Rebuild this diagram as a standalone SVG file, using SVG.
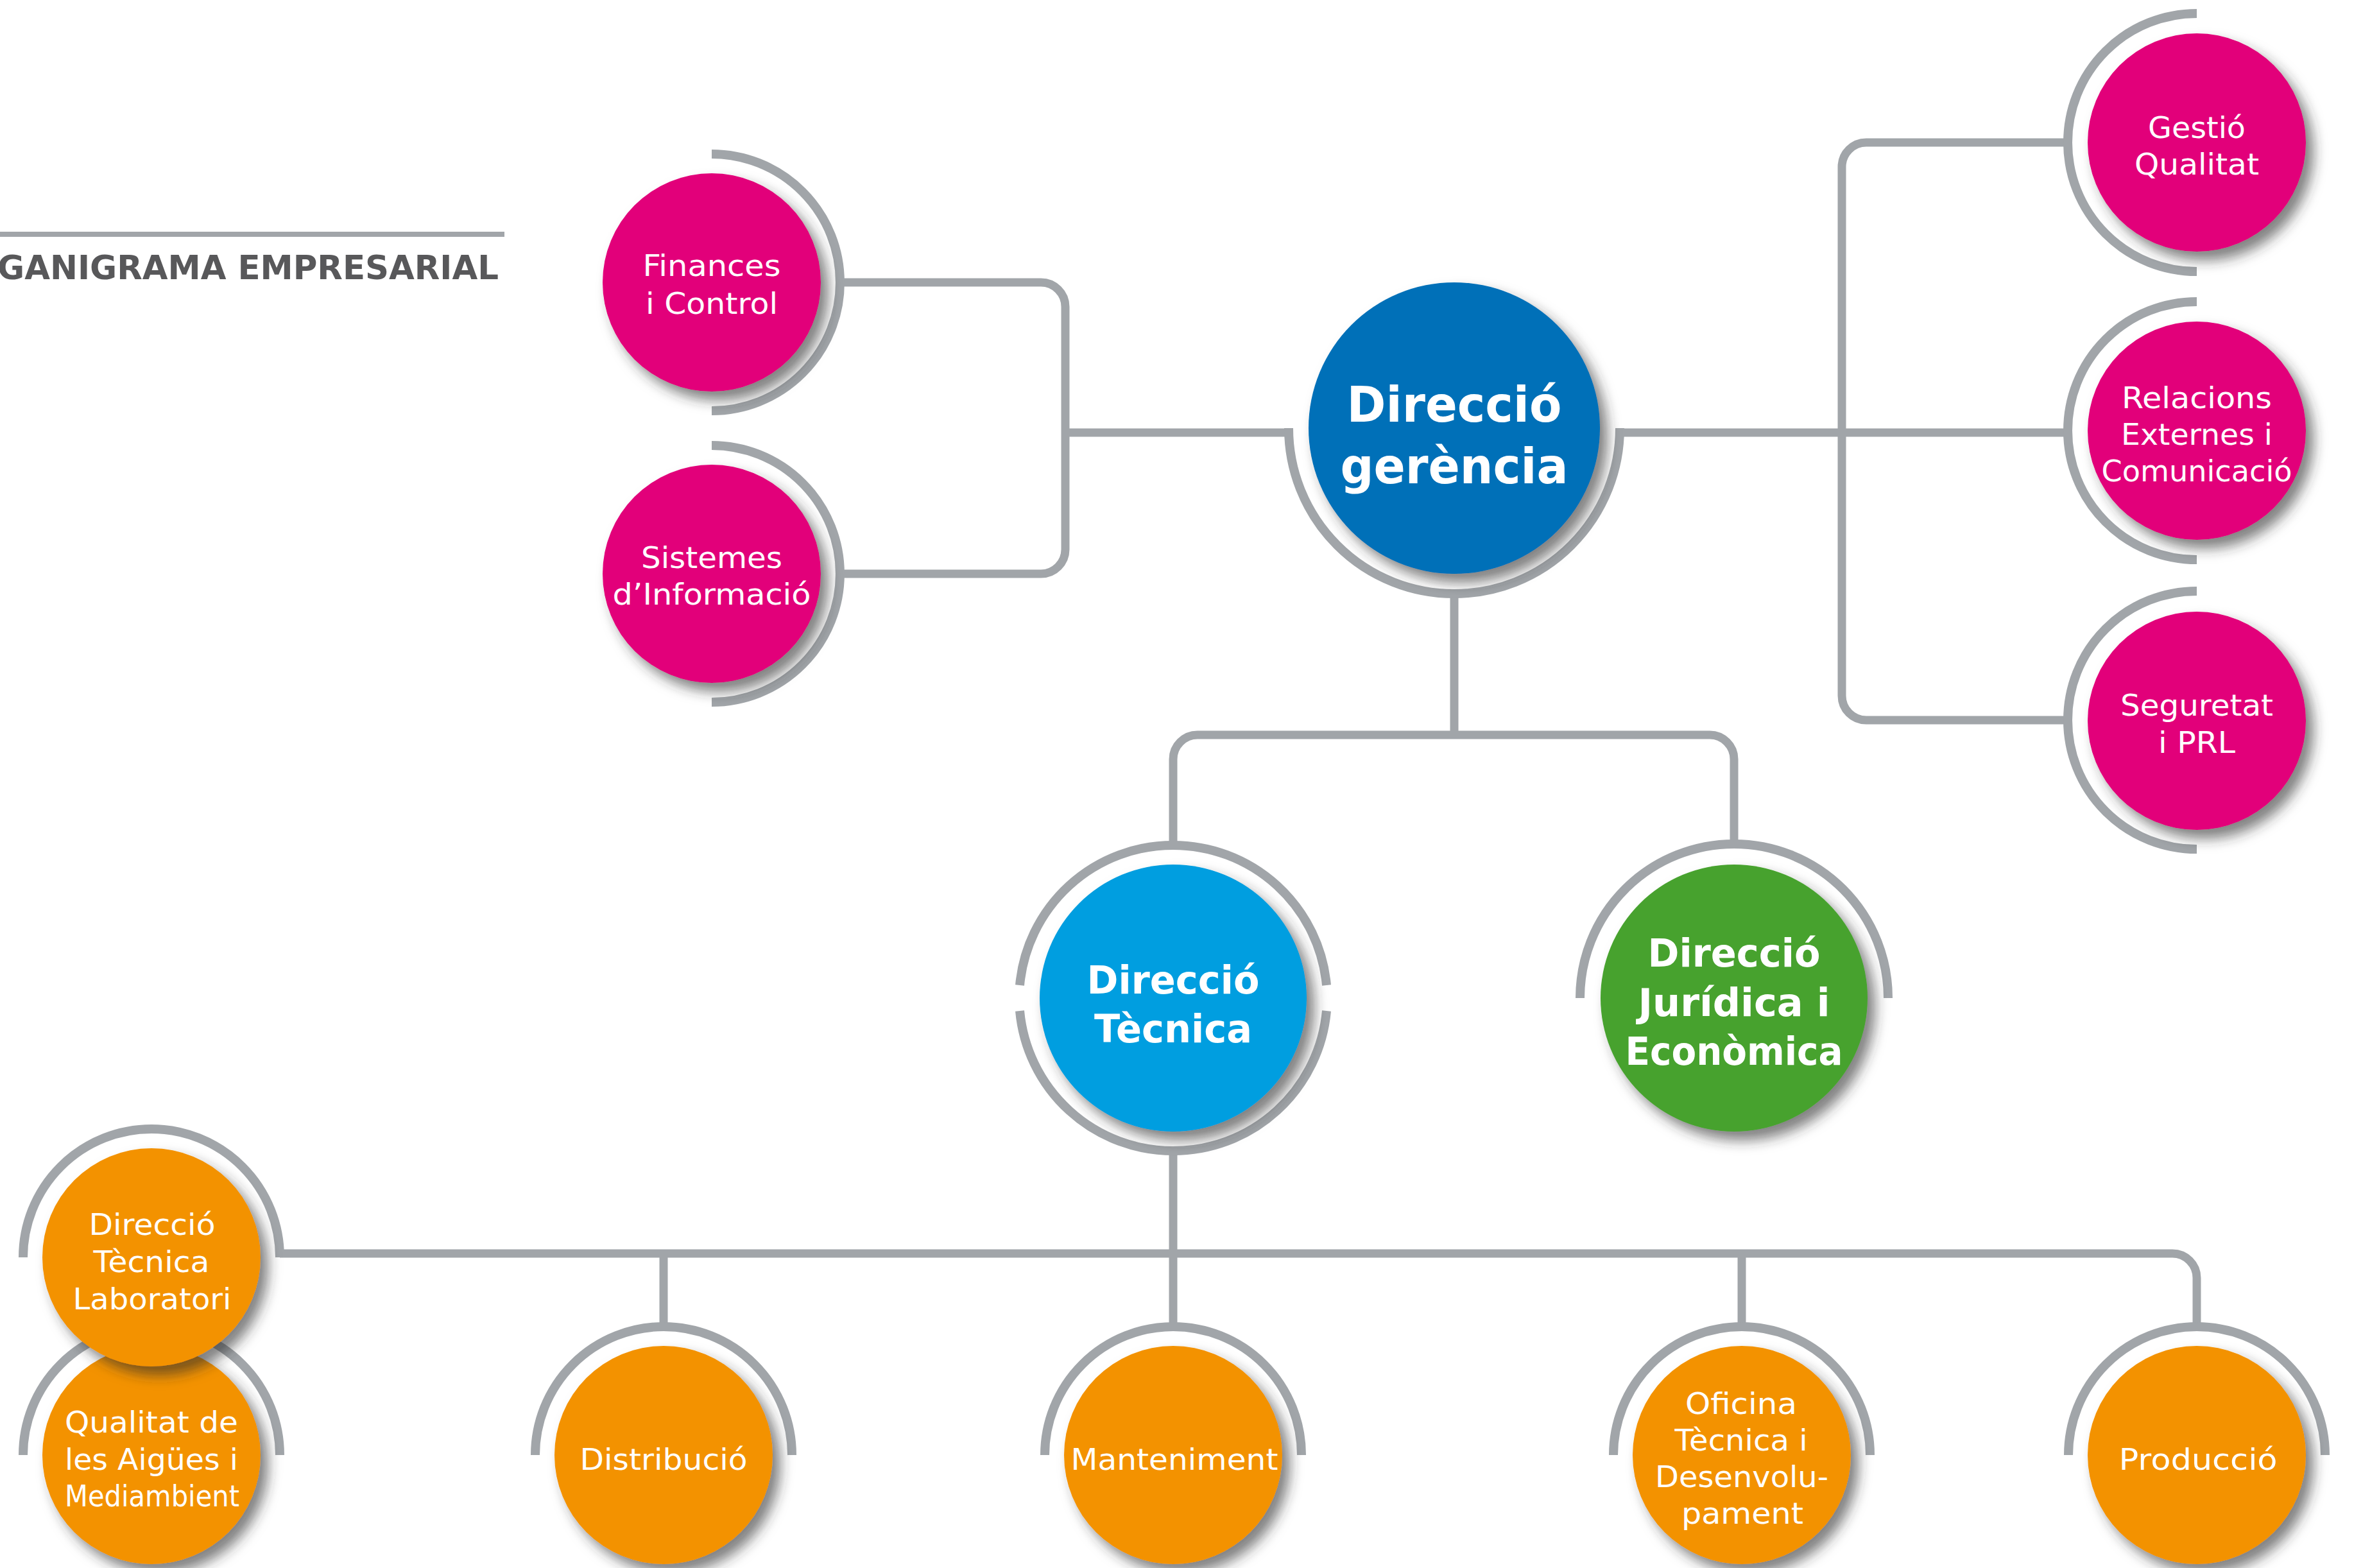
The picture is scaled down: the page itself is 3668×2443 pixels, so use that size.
<svg xmlns="http://www.w3.org/2000/svg" width="3668" height="2443" viewBox="0 0 3668 2443">
<defs>
<filter id="sh" x="-30%" y="-30%" width="170%" height="170%">
<feDropShadow dx="12" dy="14" stdDeviation="10" flood-color="#2a2a2a" flood-opacity="0.6"/>
</filter>
<style>
.ln{fill:none;stroke:#A1A5A9;stroke-width:13}
.rg{fill:none;stroke:#A1A5A9;stroke-width:14}
.pk{fill:#E2007A;filter:url(#sh)}
.or{fill:#F39200;filter:url(#sh)}
.t{fill:#fff;font-family:"DejaVu Sans","Liberation Sans",sans-serif;font-size:46px;text-anchor:middle}
.tb{fill:#fff;font-family:"DejaVu Sans","Liberation Sans",sans-serif;font-weight:700;text-anchor:middle}
</style>
</defs>
<rect width="3668" height="2443" fill="#fff"/>
<g id="title">
<line x1="0" y1="365" x2="786" y2="365" stroke="#A1A5A9" stroke-width="8"/>
<text x="-4" y="435" font-family="'DejaVu Sans','Liberation Sans',sans-serif" font-weight="700" font-size="51" fill="#58585A" textLength="781" lengthAdjust="spacingAndGlyphs">GANIGRAMA EMPRESARIAL</text>
</g>
<g id="connectors">
<path class="ln" d="M1309,440 H1622 A38,38 0 0 1 1660,478 V856 A38,38 0 0 1 1622,894 H1309"/>
<path class="ln" d="M1660,674 H2010"/>
<path class="ln" d="M2522,674 H3222"/>
<path class="ln" d="M3222,222 H2908 A38,38 0 0 0 2870,260 V1084 A38,38 0 0 0 2908,1122 H3222"/>
<path class="ln" d="M2266,925 V1145"/>
<path class="ln" d="M1828,1315 V1183 A38,38 0 0 1 1866,1145 H2664 A38,38 0 0 1 2702,1183 V1315"/>
<path class="ln" d="M1828,1795 V2067"/>
<path class="ln" d="M436,1953 H3385 A38,38 0 0 1 3423,1991 V2067"/>
<path class="ln" d="M1034,1953 V2067"/>
<path class="ln" d="M2714,1953 V2067"/>
</g>
<g id="finances">
<path class="rg" d="M1109,240 A200,200 0 0 1 1109,640"/>
<circle class="pk" cx="1109" cy="440" r="170"/>
<text class="t"><tspan x="1109" y="430" textLength="215" lengthAdjust="spacingAndGlyphs">Finances</tspan><tspan x="1109" y="489" textLength="206" lengthAdjust="spacingAndGlyphs">i Control</tspan></text>
</g>
<g id="sistemes">
<path class="rg" d="M1109,694 A200,200 0 0 1 1109,1094"/>
<circle class="pk" cx="1109" cy="894" r="170"/>
<text class="t"><tspan x="1109" y="885" textLength="220" lengthAdjust="spacingAndGlyphs">Sistemes</tspan><tspan x="1109" y="942" textLength="309" lengthAdjust="spacingAndGlyphs">d’Informació</tspan></text>
</g>
<g id="gerencia">
<path class="rg" d="M2008,667 A258,258 0 0 0 2524,667"/>
<circle cx="2266" cy="667" r="227" fill="#0070B8" filter="url(#sh)"/>
<text class="tb" font-size="77"><tspan x="2266" y="657" textLength="335" lengthAdjust="spacingAndGlyphs">Direcció</tspan><tspan x="2266" y="753" textLength="355" lengthAdjust="spacingAndGlyphs">gerència</tspan></text>
</g>
<g id="gestio">
<path class="rg" d="M3423,21 A201,201 0 0 0 3423,423"/>
<circle class="pk" cx="3423" cy="222" r="170"/>
<text class="t"><tspan x="3423" y="215" textLength="152" lengthAdjust="spacingAndGlyphs">Gestió</tspan><tspan x="3423" y="272" textLength="194" lengthAdjust="spacingAndGlyphs">Qualitat</tspan></text>
</g>
<g id="relacions">
<path class="rg" d="M3423,470 A201,201 0 0 0 3423,872"/>
<circle class="pk" cx="3423" cy="671" r="170"/>
<text class="t"><tspan x="3423" y="636" textLength="234" lengthAdjust="spacingAndGlyphs">Relacions</tspan><tspan x="3423" y="693" textLength="236" lengthAdjust="spacingAndGlyphs">Externes i</tspan><tspan x="3423" y="750" textLength="297" lengthAdjust="spacingAndGlyphs">Comunicació</tspan></text>
</g>
<g id="seguretat">
<path class="rg" d="M3423,921 A201,201 0 0 0 3423,1323"/>
<circle class="pk" cx="3423" cy="1123" r="170"/>
<text class="t"><tspan x="3423" y="1115" textLength="238" lengthAdjust="spacingAndGlyphs">Seguretat</tspan><tspan x="3423" y="1173" textLength="120" lengthAdjust="spacingAndGlyphs">i PRL</tspan></text>
</g>
<g id="tecnica">
<path class="rg" d="M1589,1535 A240,240 0 0 1 2067,1535"/>
<path class="rg" d="M2067,1575 A240,240 0 0 1 1589,1575"/>
<circle cx="1828" cy="1555" r="208" fill="#009EE0" filter="url(#sh)"/>
<text class="tb" font-size="61"><tspan x="1828" y="1548" textLength="269" lengthAdjust="spacingAndGlyphs">Direcció</tspan><tspan x="1828" y="1624" textLength="246" lengthAdjust="spacingAndGlyphs">Tècnica</tspan></text>
</g>
<g id="juridica">
<path class="rg" d="M2462,1555 A240,240 0 0 1 2942,1555"/>
<circle cx="2702" cy="1555" r="208" fill="#47A22E" filter="url(#sh)"/>
<text class="tb" font-size="61"><tspan x="2702" y="1506" textLength="269" lengthAdjust="spacingAndGlyphs">Direcció</tspan><tspan x="2702" y="1583" textLength="299" lengthAdjust="spacingAndGlyphs">Jurídica i</tspan><tspan x="2702" y="1659" textLength="339" lengthAdjust="spacingAndGlyphs">Econòmica</tspan></text>
</g>
<g id="qualitat-aigues">
<path class="rg" d="M36,2267 A200,200 0 0 1 436,2267"/>
<circle class="or" cx="236" cy="2267" r="170"/>
<text class="t"><tspan x="236" y="2232" textLength="270" lengthAdjust="spacingAndGlyphs">Qualitat de</tspan><tspan x="236" y="2290" textLength="270" lengthAdjust="spacingAndGlyphs">les Aigües i</tspan><tspan x="237" y="2347" textLength="272" lengthAdjust="spacingAndGlyphs">Mediambient</tspan></text>
</g>
<g id="laboratori">
<path class="rg" d="M36,1959 A200,200 0 0 1 436,1959"/>
<circle class="or" cx="236" cy="1959" r="170"/>
<text class="t"><tspan x="237" y="1924" textLength="197" lengthAdjust="spacingAndGlyphs">Direcció</tspan><tspan x="236" y="1982" textLength="181" lengthAdjust="spacingAndGlyphs">Tècnica</tspan><tspan x="237" y="2040" textLength="247" lengthAdjust="spacingAndGlyphs">Laboratori</tspan></text>
</g>
<g id="distribucio">
<path class="rg" d="M834,2267 A200,200 0 0 1 1234,2267"/>
<circle class="or" cx="1034" cy="2267" r="170"/>
<text class="t" x="1034" y="2290" textLength="261" lengthAdjust="spacingAndGlyphs">Distribució</text>
</g>
<g id="manteniment">
<path class="rg" d="M1628,2267 A200,200 0 0 1 2028,2267"/>
<circle class="or" cx="1828" cy="2267" r="170"/>
<text class="t" x="1830" y="2290" textLength="323" lengthAdjust="spacingAndGlyphs">Manteniment</text>
</g>
<g id="oficina">
<path class="rg" d="M2514,2267 A200,200 0 0 1 2914,2267"/>
<circle class="or" cx="2714" cy="2267" r="170"/>
<text class="t"><tspan x="2713" y="2203" textLength="174" lengthAdjust="spacingAndGlyphs">Oficina</tspan><tspan x="2713" y="2260" textLength="207" lengthAdjust="spacingAndGlyphs">Tècnica i</tspan><tspan x="2714" y="2317" textLength="270" lengthAdjust="spacingAndGlyphs">Desenvolu-</tspan><tspan x="2715" y="2374" textLength="190" lengthAdjust="spacingAndGlyphs">pament</tspan></text>
</g>
<g id="produccio">
<path class="rg" d="M3223,2267 A200,200 0 0 1 3623,2267"/>
<circle class="or" cx="3423" cy="2267" r="170"/>
<text class="t" x="3425" y="2290" textLength="247" lengthAdjust="spacingAndGlyphs">Producció</text>
</g>
</svg>
